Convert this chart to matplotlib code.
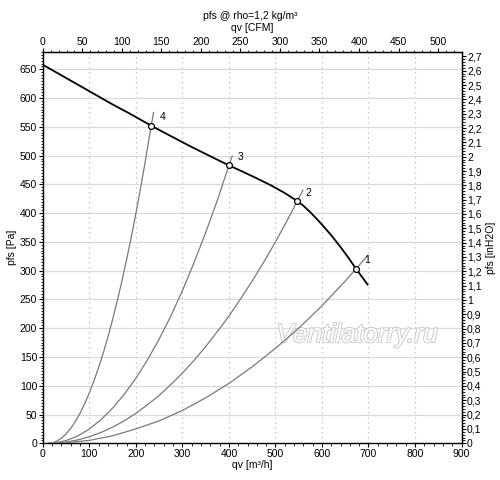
import numpy as np
import matplotlib
matplotlib.use("Agg")
import matplotlib.pyplot as plt
import matplotlib.patheffects as pe
from matplotlib.ticker import MultipleLocator, FixedLocator, FuncFormatter

plt.rcParams["font.family"] = ["Liberation Sans", "DejaVu Sans"]

# fan curve (qv m3/h, pfs Pa)
fan_q = [0, 50, 100, 150, 187, 233, 275, 320, 360, 400, 430, 460, 490, 520, 547, 560, 575,
         590, 605, 620, 639, 656, 673, 698]
fan_p = [658, 635, 612, 589, 573, 552, 534, 515, 499, 483, 472, 460.5, 448.5, 435, 421, 413, 401.5,
         389, 375.5, 361.5, 342, 323.5, 303.5, 276]

# system curves 1..4
sys1_q = [12, 50, 100, 150, 200, 250, 300, 350, 400, 450, 500, 550, 600, 650, 673, 698]
sys1_p = [0, 1, 5, 13, 25, 39, 57, 79, 104, 133, 165, 200, 239, 282, 303, 326]
sys2_q = [12, 25, 50, 75, 100, 125, 150, 175, 200, 225, 250, 275, 300, 325, 350, 375,
          400, 425, 450, 475, 500, 525, 547, 559]
sys2_p = [0, 0.2, 2.1, 5.8, 11.4, 18.8, 28, 39, 52, 67, 83, 102, 122, 144, 168, 194,
          221, 251, 282, 315, 350, 387, 421, 440]
sys3_q = [12, 25, 50, 75, 100, 125, 150, 175, 200, 225, 250, 275, 300, 325, 350, 375, 400, 407]
sys3_p = [0, 0.5, 4.6, 12.7, 24.8, 41, 61, 85, 113, 145, 181, 221, 265, 314, 366, 422, 483, 499]
sys4_q = [12, 20, 30, 40, 50, 60, 70, 80, 90, 100, 110, 120, 130, 140, 150, 160, 170,
          180, 190, 200, 210, 220, 233, 238]
sys4_p = [0, 0.7, 3.7, 8.9, 16.3, 26, 38, 52, 69, 87.5, 108.5, 132, 157, 185, 215, 247.5, 282,
          319, 358, 399, 443, 489, 552, 575]

# operating points
op_labels = ["1", "2", "3", "4"]
op_q = [673, 547, 400, 233]
op_p = [303.5, 421, 483, 552]

# secondary axis ticks
cfm_ticks = [0, 50, 100, 150, 200, 250, 300, 350, 400, 450, 500]
inh2o_ticks = [i / 10 for i in range(0, 28)]

fig = plt.figure(figsize=(5, 4.8), dpi=100)
ax = fig.add_axes([0.0856, 0.0765, 0.8375, 0.815])

fs = 7.5
gray = "#7a7a7a"

for q, p in [(sys1_q, sys1_p), (sys2_q, sys2_p), (sys3_q, sys3_p), (sys4_q, sys4_p)]:
    ax.plot(q, p, color=gray, lw=0.9, zorder=3)
ax.plot(fan_q, fan_p, color="black", lw=1.3, zorder=4)
ax.plot(op_q, op_p, "o", ms=4.2, mfc="white", mec="black", mew=0.9, zorder=5)
for lab, q, p in zip(op_labels, op_q, op_p):
    ax.annotate(lab, (q, p), xytext=(6, 4), textcoords="offset points",
                fontsize=fs, color="black")

ax.set_xlim(0, 900)
ax.set_ylim(0, 680)
ax.xaxis.set_major_locator(MultipleLocator(100))
ax.xaxis.set_minor_locator(MultipleLocator(20))
ax.yaxis.set_major_locator(MultipleLocator(50))
ax.yaxis.set_minor_locator(MultipleLocator(5))
ax.tick_params(labelsize=fs, length=3, width=0.8, pad=1)
ax.tick_params(which="minor", length=1.8, width=0.6)
ax.grid(axis="y", color="#dadada", lw=0.9, ls="-")
ax.grid(axis="x", color="#b8b8b8", lw=0.9, ls=(0, (1, 3)))
ax.set_axisbelow(True)
ax.set_xlabel("qv [m³/h]", fontsize=fs, labelpad=1)
ax.set_ylabel("pfs [Pa]", fontsize=fs, labelpad=2)
for s in ax.spines.values():
    s.set_linewidth(1.0)

top = ax.secondary_xaxis("top", functions=(lambda x: x / 1.699, lambda x: x * 1.699))
top.xaxis.set_major_locator(FixedLocator(cfm_ticks))
top.xaxis.set_minor_locator(FixedLocator(np.arange(0, 530, 10)))
top.tick_params(labelsize=fs, length=3, width=0.8, pad=1)
top.tick_params(which="minor", length=1.8, width=0.6)
top.set_xlabel("qv [CFM]", fontsize=fs, labelpad=4)


def in_fmt(v, pos):
    s = f"{v:.1f}".replace(".", ",")
    return s[:-2] if s.endswith(",0") else s


right = ax.secondary_yaxis("right", functions=(lambda y: y / 249.09, lambda y: y * 249.09))
right.yaxis.set_major_locator(FixedLocator(inh2o_ticks))
right.yaxis.set_minor_locator(FixedLocator(np.arange(0, 2.72, 0.02)))
right.yaxis.set_major_formatter(FuncFormatter(in_fmt))
right.tick_params(labelsize=fs, length=3, width=0.8, pad=1)
right.tick_params(which="minor", length=1.8, width=0.6)
right.set_ylabel("pfs [inH2O]", fontsize=fs, labelpad=3)

fig.text(0.5, 0.966, "pfs @ rho=1,2 kg/m³", ha="center", va="center", fontsize=fs)

ax.text(675, 188, "Ventilatorry.ru", fontsize=19, style="italic", color="white",
        ha="center", va="center", zorder=2,
        path_effects=[pe.withStroke(linewidth=1.3, foreground="#c8c8c8")])

fig.savefig("out.png", dpi=100)
